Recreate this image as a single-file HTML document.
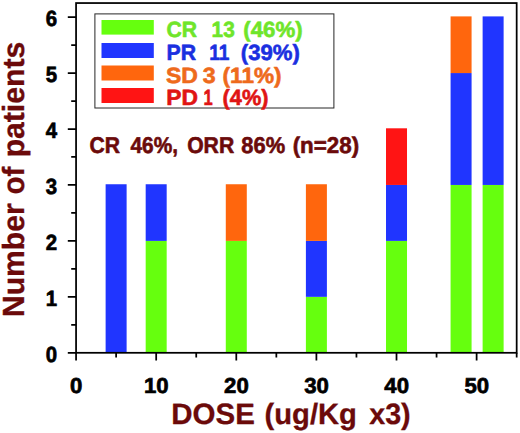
<!DOCTYPE html>
<html lang="en">
<head>
<meta charset="utf-8">
<title>Number of patients by dose</title>
<style>
  html, body { margin: 0; padding: 0; background: #ffffff; }
  body { width: 520px; height: 433px; overflow: hidden; }
  svg { display: block; }
  text { font-family: "Liberation Sans", Arial, Helvetica, sans-serif; font-weight: bold; text-rendering: geometricPrecision; }
</style>
</head>
<body>
<svg width="520" height="433" viewBox="0 0 520 433">
<rect x="0" y="0" width="520" height="433" fill="#ffffff"/>

<g>
<rect x="105.62" y="184.25" width="21" height="168.55" fill="#2035ff"/>
<rect x="145.68" y="240.9" width="21" height="111.9" fill="#66ff0e"/>
<rect x="145.68" y="184.25" width="21" height="56.65" fill="#2035ff"/>
<rect x="225.79" y="240.9" width="21" height="111.9" fill="#66ff0e"/>
<rect x="225.79" y="184.25" width="21" height="56.65" fill="#ff660d"/>
<rect x="305.9" y="296.85" width="21" height="55.95" fill="#66ff0e"/>
<rect x="305.9" y="240.9" width="21" height="55.95" fill="#2035ff"/>
<rect x="305.9" y="184.25" width="21" height="56.65" fill="#ff660d"/>
<rect x="386.01" y="240.9" width="21" height="111.9" fill="#66ff0e"/>
<rect x="386.01" y="184.95" width="21" height="55.95" fill="#2035ff"/>
<rect x="386.01" y="128.3" width="21" height="56.65" fill="#ff1414"/>
<rect x="450.58" y="184.95" width="21" height="167.85" fill="#66ff0e"/>
<rect x="450.58" y="73.05" width="21" height="111.9" fill="#2035ff"/>
<rect x="450.58" y="16.4" width="21" height="56.65" fill="#ff660d"/>
<rect x="482.62" y="184.95" width="21" height="167.85" fill="#66ff0e"/>
<rect x="482.62" y="16.4" width="21" height="168.55" fill="#2035ff"/>
</g>
<g stroke="#000000" stroke-width="1.75" fill="none">
<rect x="76.07" y="3.05" width="440.6" height="349.75"/>
<path d="M67.8 352.8H76.07M67.8 296.85H76.07M67.8 240.9H76.07M67.8 184.95H76.07M67.8 129H76.07M67.8 73.05H76.07M67.8 17.1H76.07"/>
<path d="M71.2 324.82H76.07M71.2 268.88H76.07M71.2 212.93H76.07M71.2 156.97H76.07M71.2 101.03H76.07M71.2 45.07H76.07"/>
<path d="M76.07 352.8V360.6M156.18 352.8V360.6M236.29 352.8V360.6M316.4 352.8V360.6M396.51 352.8V360.6M476.62 352.8V360.6"/>
<path d="M116.12 352.8V357.6M196.23 352.8V357.6M276.34 352.8V357.6M356.45 352.8V357.6M436.56 352.8V357.6M516.67 352.8V357.6"/>
</g>
<rect x="94.9" y="13.9" width="239" height="94.1" fill="#ffffff" stroke="#262626" stroke-width="1"/>
<rect x="101.5" y="20" width="52.3" height="14.6" fill="#66ff0e"/>
<rect x="101.5" y="43" width="52.3" height="15" fill="#2035ff"/>
<rect x="101.5" y="65.5" width="52.3" height="15" fill="#ff660d"/>
<rect x="101.5" y="88" width="52.3" height="15" fill="#ff1414"/>
<text y="37" font-size="22" fill="#6fe52a" stroke="#6fe52a" stroke-width="0.6" stroke-linejoin="round"><tspan x="166.45" textLength="30.56" lengthAdjust="spacingAndGlyphs">CR</tspan> <tspan x="211.54" textLength="23.24" lengthAdjust="spacingAndGlyphs">13</tspan> <tspan x="243.29" textLength="59.27" lengthAdjust="spacingAndGlyphs">(46%)</tspan></text>
<text y="59.5" font-size="22" fill="#1a2fe0" stroke="#1a2fe0" stroke-width="0.6" stroke-linejoin="round"><tspan x="166.62" textLength="29.49" lengthAdjust="spacingAndGlyphs">PR</tspan> <tspan x="209.16" textLength="20.16" lengthAdjust="spacingAndGlyphs">11</tspan> <tspan x="240.89" textLength="58.95" lengthAdjust="spacingAndGlyphs">(39%)</tspan></text>
<text y="82.6" font-size="22" fill="#ee6a1c" stroke="#ee6a1c" stroke-width="0.6" stroke-linejoin="round"><tspan x="166.01" textLength="31.9" lengthAdjust="spacingAndGlyphs">SD</tspan> <tspan x="202.72" textLength="12.92" lengthAdjust="spacingAndGlyphs">3</tspan> <tspan x="222.57" textLength="59.01" lengthAdjust="spacingAndGlyphs">(11%)</tspan></text>
<text y="104.5" font-size="22" fill="#e01414" stroke="#e01414" stroke-width="0.6" stroke-linejoin="round"><tspan x="166.22" textLength="31.69" lengthAdjust="spacingAndGlyphs">PD</tspan> <tspan x="203.52" textLength="9.21" lengthAdjust="spacingAndGlyphs">1</tspan> <tspan x="222.62" textLength="45.8" lengthAdjust="spacingAndGlyphs">(4%)</tspan></text>
<text y="152.6" font-size="22.8" fill="#6b0a0a" stroke="#6b0a0a" stroke-width="0.6" stroke-linejoin="round"><tspan x="89.55" textLength="30.56" lengthAdjust="spacingAndGlyphs">CR</tspan> <tspan x="130.49" textLength="47.46" lengthAdjust="spacingAndGlyphs">46%,</tspan> <tspan x="187.15" textLength="47.07" lengthAdjust="spacingAndGlyphs">ORR</tspan> <tspan x="241.34" textLength="43.74" lengthAdjust="spacingAndGlyphs">86%</tspan> <tspan x="292.63" textLength="66.45" lengthAdjust="spacingAndGlyphs">(n=28)</tspan></text>
<text x="45.75" y="362" font-size="22" fill="#000" stroke="#000" stroke-width="0.7" textLength="11.35" lengthAdjust="spacingAndGlyphs">0</text>
<text x="45.75" y="306.05" font-size="22" fill="#000" stroke="#000" stroke-width="0.7" textLength="11.35" lengthAdjust="spacingAndGlyphs">1</text>
<text x="45.75" y="250.1" font-size="22" fill="#000" stroke="#000" stroke-width="0.7" textLength="11.35" lengthAdjust="spacingAndGlyphs">2</text>
<text x="45.75" y="194.15" font-size="22" fill="#000" stroke="#000" stroke-width="0.7" textLength="11.35" lengthAdjust="spacingAndGlyphs">3</text>
<text x="45.75" y="138.2" font-size="22" fill="#000" stroke="#000" stroke-width="0.7" textLength="11.35" lengthAdjust="spacingAndGlyphs">4</text>
<text x="45.75" y="82.25" font-size="22" fill="#000" stroke="#000" stroke-width="0.7" textLength="11.35" lengthAdjust="spacingAndGlyphs">5</text>
<text x="45.75" y="26.3" font-size="22" fill="#000" stroke="#000" stroke-width="0.7" textLength="11.35" lengthAdjust="spacingAndGlyphs">6</text>
<text x="70.1" y="392.9" font-size="21.6" fill="#000" stroke="#000" stroke-width="0.7" textLength="12.35" lengthAdjust="spacingAndGlyphs">0</text>
<text x="144.03" y="392.9" font-size="21.6" fill="#000" stroke="#000" stroke-width="0.7" textLength="24.7" lengthAdjust="spacingAndGlyphs">10</text>
<text x="224.14" y="392.9" font-size="21.6" fill="#000" stroke="#000" stroke-width="0.7" textLength="24.7" lengthAdjust="spacingAndGlyphs">20</text>
<text x="304.25" y="392.9" font-size="21.6" fill="#000" stroke="#000" stroke-width="0.7" textLength="24.7" lengthAdjust="spacingAndGlyphs">30</text>
<text x="384.36" y="392.9" font-size="21.6" fill="#000" stroke="#000" stroke-width="0.7" textLength="24.7" lengthAdjust="spacingAndGlyphs">40</text>
<text x="464.47" y="392.9" font-size="21.6" fill="#000" stroke="#000" stroke-width="0.7" textLength="24.7" lengthAdjust="spacingAndGlyphs">50</text>
<text y="424.4" font-size="29.4" fill="#6b0a0a" stroke="#6b0a0a" stroke-width="0.3" stroke-linejoin="round"><tspan x="171.33" textLength="83.57" lengthAdjust="spacingAndGlyphs">DOSE</tspan> <tspan x="264.54" textLength="92.37" lengthAdjust="spacingAndGlyphs">(ug/Kg</tspan> <tspan x="369.21" textLength="41.48" lengthAdjust="spacingAndGlyphs">x3)</tspan></text>
<text y="0" font-size="30.6" fill="#6b0a0a" stroke="#6b0a0a" stroke-width="0.3" stroke-linejoin="round" transform="translate(24 320) rotate(-90)"><tspan x="2.94" textLength="113.66" lengthAdjust="spacingAndGlyphs">Number</tspan> <tspan x="125.42" textLength="27.95" lengthAdjust="spacingAndGlyphs">of</tspan> <tspan x="162.64" textLength="115.59" lengthAdjust="spacingAndGlyphs">patients</tspan></text>
</svg>
</body>
</html>
